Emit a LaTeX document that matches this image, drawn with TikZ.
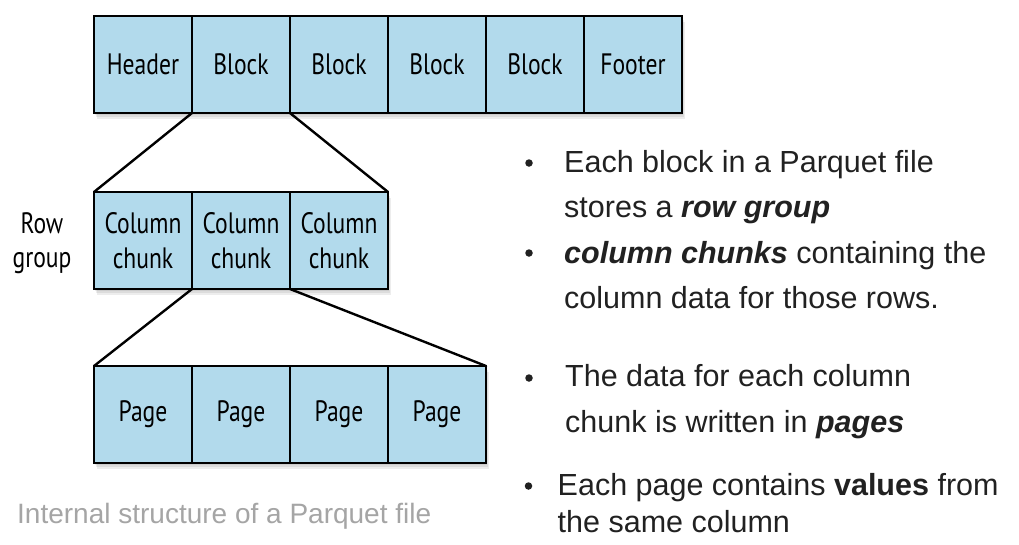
\documentclass[tikz,border=0pt]{standalone}
\usepackage{fontspec}
\setmainfont{Liberation Sans}
\newfontfamily\condfont[FakeStretch=0.8]{PT Sans}
\definecolor{boxblue}{RGB}{178,218,236}
\definecolor{txt}{RGB}{33,33,33}
\definecolor{capgray}{RGB}{165,165,165}
\begin{document}
\begin{tikzpicture}[x=1pt,y=-1pt,
  cell/.style={draw=black, line width=2.4pt, fill=boxblue, minimum width=98pt,
    minimum height=97pt, inner sep=0pt, outer sep=0pt, anchor=north west,
    font=\condfont\fontsize{29.5}{34.5}\selectfont, align=center},
  conn/.style={line width=2.4pt, line cap=round},
  shade/.style={fill=black, opacity=0.07},
  btxt/.style={anchor=base west, inner sep=0pt, text=txt,
    font=\fontsize{30.5}{36}\selectfont},
  bul/.style={circle, fill=txt, inner sep=0pt, minimum size=7.5pt},
]
\useasboundingbox (0,0) rectangle (1019,544);
\fill[white] (0,0) rectangle (1019,544);

% soft shadows
\foreach \d in {2,4,6}{
  \fill[shade] (94+\d*0.5,16+\d) rectangle (682+\d*0.5,113+\d);
  \fill[shade] (94+\d*0.5,192+\d) rectangle (388+\d*0.5,289+\d);
  \fill[shade] (94+\d*0.5,366+\d) rectangle (486+\d*0.5,463+\d);
}

% top row
\node[cell] (t1) at (94,16) {Header};
\node[cell] (t2) at (192,16) {Block};
\node[cell] (t3) at (290,16) {Block};
\node[cell] (t4) at (388,16) {Block};
\node[cell] (t5) at (486,16) {Block};
\node[cell] (t6) at (584,16) {Footer};

% column chunks
\node[cell] (c1) at (94,192) {Column\\chunk};
\node[cell] (c2) at (192,192) {Column\\chunk};
\node[cell] (c3) at (290,192) {Column\\chunk};

% pages
\node[cell] (p1) at (94,366) {Page};
\node[cell] (p2) at (192,366) {Page};
\node[cell] (p3) at (290,366) {Page};
\node[cell] (p4) at (388,366) {Page};

% connectors
\draw[conn] (t2.south west) -- (c1.north west);
\draw[conn] (t2.south east) -- (c3.north east);
\draw[conn] (c2.south west) -- (p1.north west);
\draw[conn] (c2.south east) -- (p4.north east);

% row group label
\node[align=center, inner sep=0pt, font=\condfont\fontsize{29.5}{34.5}\selectfont] (rg) at (42,243) {Row\\group};

% caption
\node[anchor=base west, inner sep=0pt, text=capgray, font=\fontsize{28}{32}\selectfont] (cap) at (17,523) {Internal structure of a Parquet file};

% bullets
\node[bul] (b1) at (529,163) {};
\node[bul] (b2) at (529,253) {};
\node[bul] (b3) at (529,378) {};
\node[bul] (b4) at (528.5,486) {};

\node[btxt] (l1) at (564,172.5) {Each block in a Parquet file};
\node[btxt] (l2) at (564,217) {stores a \textbf{\textit{row group}}};
\node[btxt] (l3) at (564,263) {\textbf{\textit{column chunks}} containing the};
\node[btxt] (l4) at (564,308.5) {column data for those rows.};
\node[btxt] (l5) at (565,386.5) {The data for each column};
\node[btxt] (l6) at (565,432) {chunk is written in \textbf{\textit{pages}}};
\node[btxt] (l7) at (557.5,495.5) {Each page contains \textbf{values} from};
\node[btxt] (l8) at (557.5,532) {the same column};
\end{tikzpicture}
\end{document}
